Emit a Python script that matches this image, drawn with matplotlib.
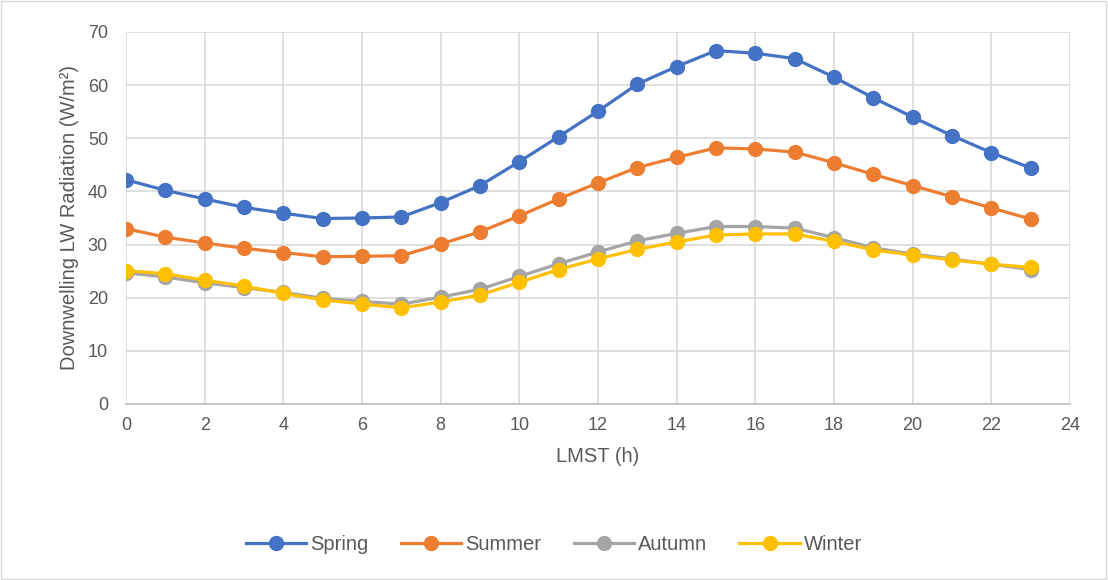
import numpy as np
import matplotlib
matplotlib.use("Agg")
import matplotlib.pyplot as plt
from matplotlib.patches import Rectangle

plt.rcParams['font.family'] = ['Liberation Sans', 'DejaVu Sans']

hours = np.arange(24)
spring = [42.2, 40.2, 38.6, 37.0, 35.9, 34.9, 35.0, 35.2, 37.9, 41.1, 45.6, 50.3,
          55.1, 60.2, 63.5, 66.5, 66.0, 65.0, 61.5, 57.6, 54.0, 50.5, 47.3, 44.4]
summer = [33.0, 31.4, 30.3, 29.3, 28.5, 27.7, 27.8, 27.9, 30.1, 32.4, 35.4, 38.6,
          41.6, 44.5, 46.4, 48.2, 48.0, 47.4, 45.4, 43.2, 41.1, 39.0, 36.9, 34.8]
autumn = [24.7, 23.9, 22.8, 21.9, 21.0, 19.9, 19.3, 18.8, 20.1, 21.6, 24.0, 26.4,
          28.6, 30.7, 32.1, 33.4, 33.4, 33.1, 31.3, 29.4, 28.2, 27.3, 26.3, 25.3]
winter = [25.1, 24.5, 23.3, 22.2, 20.8, 19.6, 18.8, 18.1, 19.2, 20.5, 22.9, 25.3,
          27.3, 29.1, 30.5, 31.8, 32.0, 32.0, 30.6, 29.0, 28.0, 27.1, 26.3, 25.7]

seasons = ['Spring', 'Summer', 'Autumn', 'Winter']
colors = ['#4472C4', '#ED7D31', '#A5A5A5', '#FFC000']

fig = plt.figure(figsize=(11.08, 5.8), dpi=100)
ax = fig.add_axes([126/1108, 1-404/580, (1070-126)/1108, (404-32)/580])

# outer chart border
fig.patches.append(Rectangle((0.001, 0.002), 0.997, 0.996, transform=fig.transFigure,
                             fill=False, edgecolor='#d9d9d9', linewidth=1))

for vals, name, c in zip([spring, summer, autumn, winter], seasons, colors):
    ax.plot(hours, vals, color=c, linewidth=2.3, marker='o', markersize=10, label=name)

ax.set_xlim(0, 24)
ax.set_ylim(0, 70)
ax.set_xticks(range(0, 25, 2))
ax.set_yticks(range(0, 71, 10))
ax.grid(True, color='#d9d9d9', linewidth=1.2)
ax.set_axisbelow(True)
for s in ['top', 'right', 'left']:
    ax.spines[s].set_visible(False)
ax.spines['bottom'].set_color('#bfbfbf')
ax.spines['bottom'].set_linewidth(1.2)
ax.tick_params(axis='both', length=0, labelsize=13, labelcolor='#595959')
ax.tick_params(axis='y', pad=13)
ax.tick_params(axis='x', pad=9)

ax.set_xlabel('LMST (h)', fontsize=14.5, color='#595959', labelpad=10)
ax.set_ylabel('Downwelling LW Radiation (W/m²)', fontsize=14.5, color='#595959', labelpad=6)

fig.legend(loc='center', bbox_to_anchor=(0.5, 1-545/580), ncol=4, frameon=False,
           fontsize=14.5, labelcolor='#595959', handlelength=3, columnspacing=1.6,
           handletextpad=0.2)

fig.savefig('out.png', dpi=100)
